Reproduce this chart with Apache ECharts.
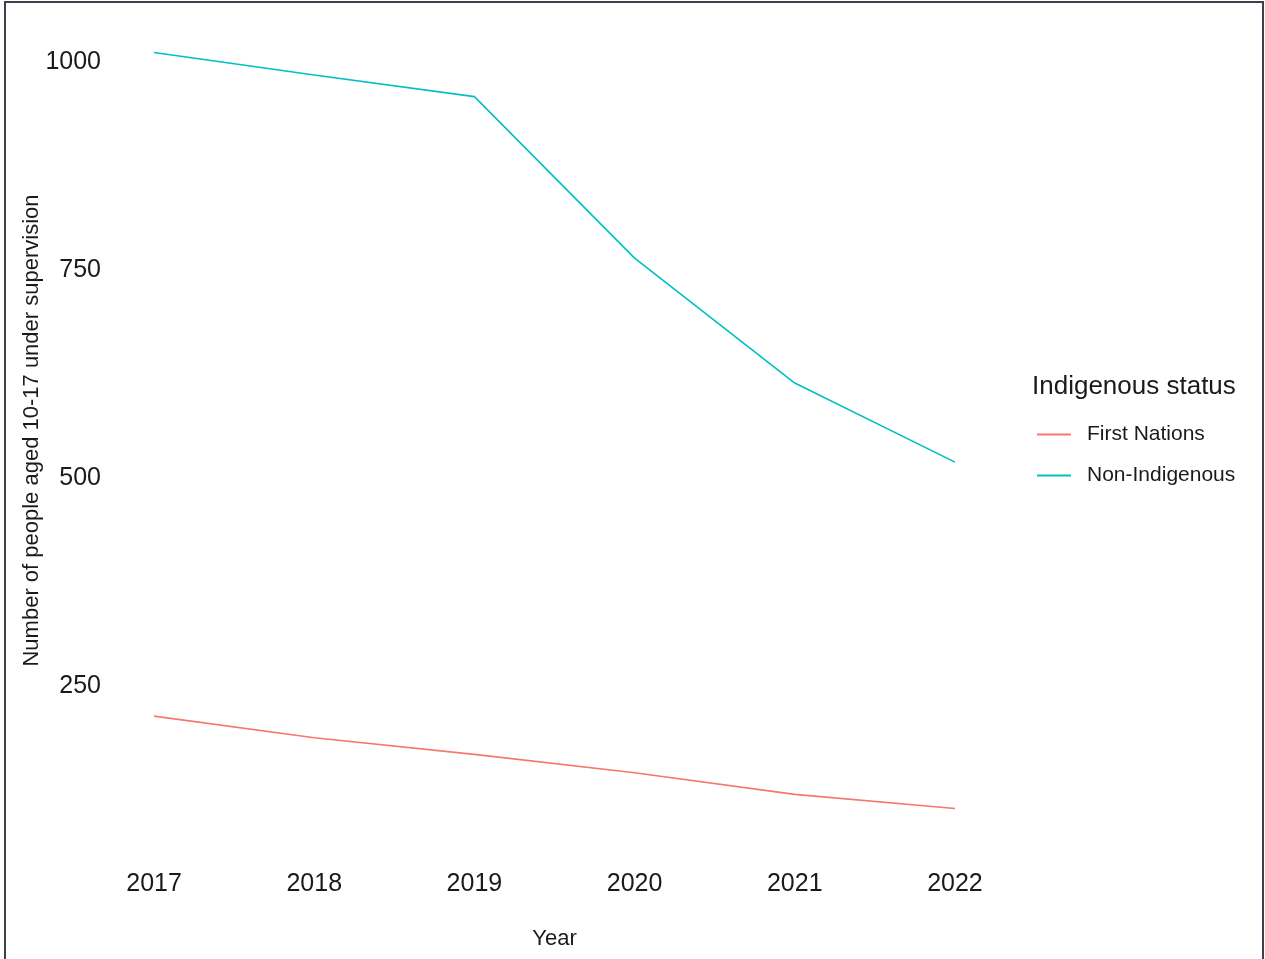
<!DOCTYPE html>
<html>
<head>
<meta charset="utf-8">
<script src="https://cdn.jsdelivr.net/npm/echarts@6/dist/echarts.min.js"></script>
<style>
  html, body { margin: 0; padding: 0; background: #fff; }
  #chart { width: 1265px; height: 959px; }
</style>
</head>
<body>
<div id="chart"></div>
<script>
// data
var years = [2017, 2018, 2019, 2020, 2021, 2022];
var firstNations = [214, 188, 168, 146, 120, 103];
var nonIndigenous = [1011, 984, 958, 764, 614, 519];
var yTicks = [250, 500, 750, 1000];
var seriesNames = ['First Nations', 'Non-Indigenous'];

function pairs(vals) {
    return years.map(function (y, i) { return [y, vals[i]]; });
}

var font = 'Liberation Sans, Arial, sans-serif';
var chart = echarts.init(document.getElementById('chart'));

var option = {
    animation: false,
    backgroundColor: '#fff',
    color: ['#F8766D', '#00BFC4'],
    grid: { left: 114, right: 270, top: 15, bottom: 113 },
    xAxis: {
        type: 'value',
        min: 2016.75,
        max: 2022.25,
        name: 'Year',
        nameLocation: 'middle',
        nameGap: 82,
        nameMoveOverlap: false,
        nameTextStyle: { fontFamily: font, fontSize: 22, color: '#1a1a1a' },
        axisLine: { show: false },
        axisTick: { show: false },
        splitLine: { show: false },
        axisLabel: {
            customValues: years,
            formatter: function (v) { return String(v); },
            margin: 26,
            fontFamily: font,
            fontSize: 25,
            color: '#1a1a1a'
        }
    },
    yAxis: {
        type: 'value',
        min: 58,
        max: 1056,
        name: 'Number of people aged 10-17 under supervision',
        nameLocation: 'middle',
        nameGap: 71,
        nameMoveOverlap: false,
        nameTextStyle: { fontFamily: font, fontSize: 22, color: '#1a1a1a' },
        axisLine: { show: false },
        axisTick: { show: false },
        splitLine: { show: false },
        axisLabel: {
            customValues: yTicks,
            formatter: function (v) { return String(v); },
            margin: 13,
            fontFamily: font,
            fontSize: 25,
            color: '#1a1a1a'
        }
    },
    legend: {
        orient: 'vertical',
        left: 1032,
        top: 419,
        itemWidth: 34,
        itemHeight: 2,
        itemGap: 20,
        icon: 'rect',
        textStyle: { fontFamily: font, fontSize: 21, color: '#1a1a1a', padding: [0, 0, 0, 11] },
        data: seriesNames
    },
    graphic: [
        {
            type: 'text',
            left: 1032,
            top: 374,
            style: { text: 'Indigenous status', font: '26px ' + font, fill: '#1a1a1a' }
        },
        {
            type: 'rect',
            shape: { x: 5, y: 2, width: 1258, height: 1000 },
            style: { fill: 'none', stroke: '#3c414b', lineWidth: 2 },
            silent: true
        }
    ],
    series: [
        {
            name: seriesNames[0],
            type: 'line',
            data: pairs(firstNations),
            showSymbol: false,
            lineStyle: { width: 1.6 }
        },
        {
            name: seriesNames[1],
            type: 'line',
            data: pairs(nonIndigenous),
            showSymbol: false,
            lineStyle: { width: 1.6 }
        }
    ]
};

chart.setOption(option);
</script>
</body>
</html>
